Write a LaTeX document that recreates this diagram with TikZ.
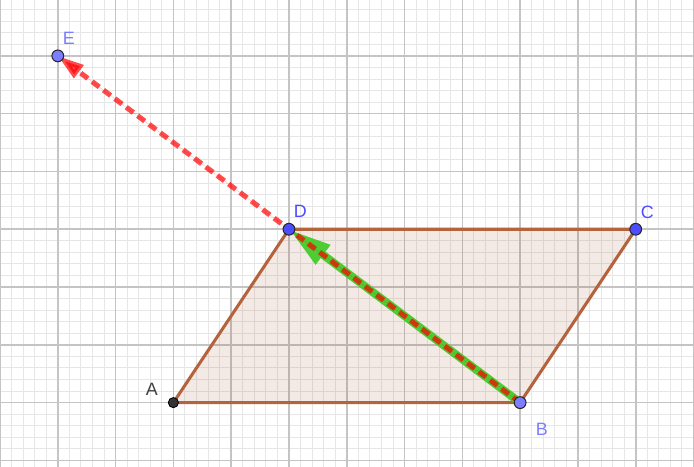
\documentclass[tikz,border=0pt]{standalone}
\usepackage{fontspec}
\setmainfont{Liberation Sans}
\usetikzlibrary{arrows.meta,calc}
\definecolor{gmajor}{RGB}{196,196,196}
\definecolor{gminor}{RGB}{230,230,230}
\definecolor{polyedge}{RGB}{180,100,60}
\definecolor{polyfill}{RGB}{153,51,0}
\definecolor{vgreen}{RGB}{77,204,51}
\definecolor{vred}{RGB}{255,0,0}
\definecolor{ptlight}{RGB}{125,125,255}
\definecolor{ptdark}{RGB}{77,77,255}
\definecolor{ptgray}{RGB}{51,51,51}
\definecolor{lblgray}{RGB}{64,64,64}
\tikzset{
  minorgrid/.style={draw=gminor,line width=0.45pt},
  majorgrid/.style={draw=gmajor,line width=0.8pt},
  polyside/.style={draw=polyedge,line width=1.5pt,line join=round},
  greenvec/.style={draw=vgreen,line width=4pt,-{Triangle[length=21pt,width=11pt]}},
  redvec/.style={draw=vred,draw opacity=0.7,fill=vred,fill opacity=0.7,line width=2.5pt,dash pattern=on 4.4pt off 2.6pt,-{Triangle[length=13pt,width=7.5pt]}},
  lightpt/.style={circle,fill=ptlight,draw=black!85,line width=0.5pt,inner sep=0pt,minimum size=5.8pt},
  darkpt/.style={circle,fill=ptdark,draw=black!85,line width=0.5pt,inner sep=0pt,minimum size=5.8pt},
  graypt/.style={circle,fill=ptgray,draw=black,line width=0.4pt,inner sep=0pt,minimum size=5pt},
  lbl/.style={font=\fontsize{8.8pt}{10pt}\selectfont,inner sep=0pt},
}
\begin{document}
\begin{tikzpicture}
\useasboundingbox (-3,-1.112) rectangle (9.009,6.967);
\begin{scope}
\clip (-3,-1.112) rectangle (9.009,6.967);
\fill[white] (-3,-1.112) rectangle (9.009,6.967);
\draw[minorgrid] (-3.2,-1.4) grid[step=0.2] (9.2,7.2);
\draw[majorgrid] (-3,-2) grid[step=1] (10,7);
\end{scope}
\coordinate (A) at (0,0);
\coordinate (B) at (6,0);
\coordinate (C) at (8,3);
\coordinate (D) at (2,3);
\coordinate (E) at (-2,6);
\fill[polyfill,fill opacity=0.1] (A) -- (B) -- (C) -- (D) -- cycle;
\draw[polyside] (A) -- (B) -- (C) -- (D) -- cycle;
\draw[greenvec] (B) -- (D);
\draw[redvec] (B) -- (E);
\node[lightpt] (pE) at (E) {};
\node[lightpt] (pB) at (B) {};
\node[darkpt] (pD) at (D) {};
\node[darkpt] (pC) at (C) {};
\node[graypt] (pA) at (A) {};
\node[lbl,text=ptlight] (lE) at ($(E)+(0.19,0.305)$) {E};
\node[lbl,text=ptdark] (lD) at ($(D)+(0.196,0.305)$) {D};
\node[lbl,text=ptdark] (lC) at ($(C)+(0.2,0.3)$) {C};
\node[lbl,text=ptlight] (lB) at ($(B)+(0.374,-0.467)$) {B};
\node[lbl,text=lblgray] (lA) at ($(A)+(-0.374,0.225)$) {A};
\end{tikzpicture}
\end{document}
